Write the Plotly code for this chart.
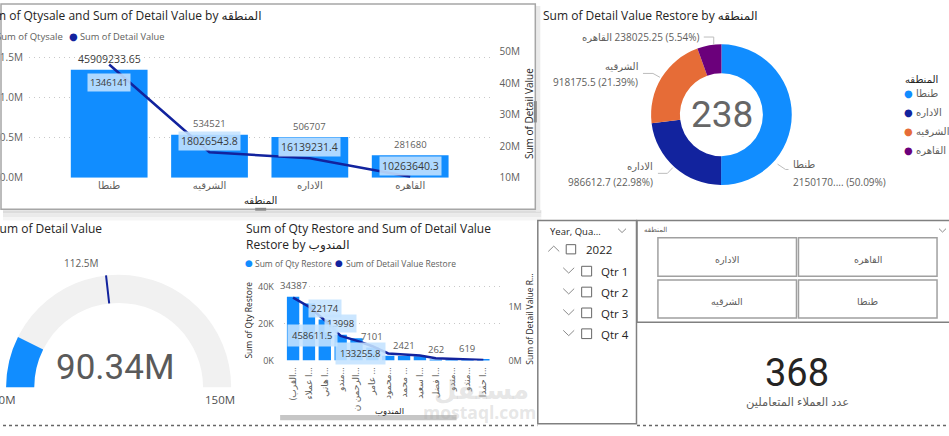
import plotly.graph_objects as go

W, H = 949, 436
def X(px): return px / W
def Y(py): return 1 - py / H

FONT = "Segoe UI, Open Sans, DejaVu Sans, sans-serif"
NUMFONT = "Liberation Sans Narrow, DejaVu Sans Condensed, Roboto, sans-serif"
DARK = "#252423"; GRAY = "#605E5C"; LBL = "#3A3A3A"
BLUE = "#118DFF"; NAVY = "#12239E"; ORANGE = "#E66C37"; PURPLE = "#6B007B"
BOX = "rgba(196,226,255,0.88)"
CLEAR = "rgba(0,0,0,0)"

# ---------------- data ----------------
regions = ["طنطا", "الشرقيه", "الاداره", "القاهره"]
qty_sale = [1346141, 534521, 506707, 281680]
detail_value = [45909233.65, 18026543.8, 16139231.4, 10263640.3]

donut_regions = ["طنطا", "الاداره", "الشرقيه", "القاهره"]
detail_value_restore = [2150170.5, 986612.7, 918175.5, 238025.25]
donut_colors = [BLUE, NAVY, ORANGE, PURPLE]
donut_center_count = 238

gauge_value = 90340000
gauge_min = 80000000
gauge_max = 150000000
gauge_target = 112500000

reps = ["(القرب...", "ا عملاء...", "ا هاني...", "مندو...", "الرحمن ن...", "عامر ...",
        "محمود...", "محمد ...", "ا سعيد...", "ا فضل...", "مندو...", "مندو...", "ا حمدا..."]
qty_restore = [34387, 30800, 22174, 13998, 12000, 7101, 2600, 2421, 2300, 262, 300, 619, 900]
value_restore = [1170000, 1000000, 750000, 458611.5, 370000, 267000, 133255.8, 120000,
                 94000, 45000, 35000, 25000, 12000]
qty_label_idx = [0, 2, 3, 5, 7, 9, 11]
qty_label_boxed = [2, 3]
value_label_idx = [3, 6]

slicer_year = "2022"
slicer_quarters = ["Qtr 1", "Qtr 2", "Qtr 3", "Qtr 4"]
button_regions = ["الاداره", "القاهره", "الشرقيه", "طنطا"]
customer_count = 368

def fmt(v):
    return ("%.2f" % v).rstrip("0").rstrip(".")

fig = go.Figure()

# ---------------- top-left combo chart ----------------
xi = list(range(len(regions)))
fig.add_trace(go.Bar(x=xi, y=qty_sale, xaxis="x", yaxis="y", width=0.765,
                     marker=dict(color=BLUE, line=dict(width=0)), hoverinfo="skip"))
fig.add_trace(go.Scatter(x=xi, y=detail_value, xaxis="x", yaxis="y2", mode="lines",
                         line=dict(color=NAVY, width=2.5), hoverinfo="skip"))

# ---------------- donut ----------------
fig.add_trace(go.Pie(labels=donut_regions, values=detail_value_restore, hole=0.59, sort=False,
                     direction="clockwise", rotation=0, textinfo="none",
                     marker=dict(colors=donut_colors, line=dict(width=0)),
                     domain=dict(x=[X(648.2), X(793.2)], y=[Y(184.5), Y(39.5)]),
                     showlegend=False, hoverinfo="skip"))

# ---------------- gauge ----------------
fig.add_trace(go.Indicator(mode="gauge", value=gauge_value,
                           domain=dict(x=[0, X(232)], y=[Y(393), Y(277)]),
                           gauge=dict(shape="angular",
                                      axis=dict(range=[gauge_min, gauge_max], visible=False),
                                      bar=dict(color=BLUE, thickness=1, line=dict(width=0)),
                                      bgcolor="#F1F1F1", borderwidth=0,
                                      threshold=dict(line=dict(color=NAVY, width=2), thickness=1,
                                                     value=gauge_target))))

# ---------------- bottom combo chart ----------------
xr = list(range(len(reps)))
fig.add_trace(go.Bar(x=xr, y=qty_restore, xaxis="x2", yaxis="y3", width=0.78,
                     marker=dict(color=BLUE, line=dict(width=0)), hoverinfo="skip"))
fig.add_trace(go.Scatter(x=xr, y=value_restore, xaxis="x2", yaxis="y4", mode="lines",
                         line=dict(color=NAVY, width=2.5), hoverinfo="skip"))

tick_font = dict(size=10, color=GRAY, family=FONT)
small_tick = dict(size=9, color=GRAY, family=FONT)
grid = dict(gridcolor="#C8C8C8", griddash="1px,4px", gridwidth=1)

layout = dict(
    width=W, height=H, margin=dict(l=0, r=0, t=0, b=0),
    paper_bgcolor="white", plot_bgcolor=CLEAR, showlegend=False,
    font=dict(family=FONT, color=GRAY),
    xaxis=dict(domain=[X(26), X(489)], range=[-0.8, 3.8], tickvals=xi, ticktext=regions,
               tickfont=tick_font, showgrid=False, zeroline=False, showline=False, ticks="",
               anchor="y", fixedrange=True),
    yaxis=dict(domain=[Y(177), Y(45)], range=[0, 1.5968e6], tickvals=[0, 5e5, 1e6, 1.5e6],
               ticktext=["0.0M", "0.5M", "1.0M", "1.5M"], tickfont=tick_font, zeroline=False,
               showline=False, ticks="", anchor="x", ticklabelstandoff=5, fixedrange=True, **grid),
    yaxis2=dict(overlaying="y", side="right", anchor="x", range=[9.95e6, 50.6e6],
                tickvals=[1e7, 2e7, 3e7, 4e7, 5e7], ticktext=["10M", "20M", "30M", "40M", "50M"],
                tickfont=tick_font, showgrid=False, zeroline=False, showline=False, ticks="",
                ticklabelstandoff=8, fixedrange=True),
    xaxis2=dict(domain=[X(281.7), X(500)], range=[-0.585, 13.14], tickvals=xr, ticktext=reps,
                tickangle=-90, tickfont=small_tick, showgrid=False, zeroline=False,
                showline=False, ticks="", anchor="y3", ticklabelstandoff=4, fixedrange=True),
    yaxis3=dict(domain=[Y(365.5), Y(283)], range=[0, 43140], tickvals=[0, 20000, 40000],
                ticktext=["0K", "20K", "40K"], tickfont=small_tick, zeroline=False, showline=False,
                ticks="", anchor="x2", ticklabelstandoff=9, fixedrange=True, **grid),
    yaxis4=dict(overlaying="y3", side="right", anchor="x2", range=[0, 1.486e6],
                tickvals=[0, 1e6], ticktext=["0M", "1M"], tickfont=small_tick, showgrid=False,
                zeroline=False, showline=False, ticks="", ticklabelstandoff=6, fixedrange=True),
)

# ---------------- shapes ----------------
shapes = []
def rect(x0, y0, x1, y1, line=None, fill=None, lw=1, layer="above"):
    d = dict(type="rect", xref="paper", yref="paper", x0=X(x0), x1=X(x1), y0=Y(y1), y1=Y(y0),
             layer=layer, line=dict(color=line or CLEAR, width=lw if line else 0))
    if fill:
        d["fillcolor"] = fill
    shapes.append(d)

def path(pts, color, lw=1):
    p = "M " + " L ".join(f"{X(a):.5f},{Y(b):.5f}" for a, b in pts)
    shapes.append(dict(type="path", xref="paper", yref="paper", path=p,
                       line=dict(color=color, width=lw), layer="above"))

def hline(x0, x1, y, color, lw=1, dash=None):
    shapes.append(dict(type="line", xref="paper", yref="paper", x0=X(x0), x1=X(x1), y0=Y(y), y1=Y(y),
                       line=dict(color=color, width=lw, dash=dash), layer="above"))

# shadow + border of the selected top-left visual
rect(0, 210.5, 540, 214, fill="#DCDCDC", layer="below")
rect(0, 214, 540, 218, fill="#EAEAEA", layer="below")
rect(0, 218, 540, 221, fill="#F5F5F5", layer="below")
rect(534.5, 0, 539, 212, fill="#EAEAEA", layer="below")
rect(-2, -2, 534, 209.5, line="#A6A6A6", lw=1.5)
rect(532.5, 98, 535.5, 120, fill="#8A8A8A")
rect(253, 208, 264, 211, fill="#8A8A8A")

# donut leader lines
LEAD = "#BDBDBD"
path([(703, 32), (713, 32), (713, 40)], LEAD)
path([(642, 69.5), (652, 69.5), (659, 73.5)], LEAD)
path([(657, 172.5), (666.5, 172.5), (672, 166.5)], LEAD)
path([(788, 168.5), (785, 168.5), (777, 163)], LEAD)

# bottom chart scrollbar
rect(278, 421.5, 455, 427, fill="#C6C6C6")

# slicer panels
rect(536.5, 221, 635.5, 430.5, line="#808080", lw=1.5)
rect(636, 221, 951, 326, line="#808080", lw=1.5)
CHEV = "#8A8A8A"
path([(617, 229.5), (621, 233.5), (625, 229.5)], CHEV)
path([(939, 229.5), (942.5, 233), (946, 229.5)], CHEV)
path([(547, 253), (552.5, 247.5), (558, 253)], CHEV)
rect(565, 246, 574.5, 255.5, line="#666666", lw=1)
row_y = [273.3, 294.8, 316.3, 337.8]
for cy in row_y:
    path([(562, cy - 3.5), (567.5, cy + 2), (573, cy - 3.5)], CHEV)
    rect(580.5, cy - 5, 590.5, cy + 5, line="#666666", lw=1)

btn_boxes = [(657, 239, 796, 278.5), (798, 239, 937, 278.5),
             (657, 282.5, 796, 321.5), (798, 282.5, 937, 321.5)]
for b in btn_boxes:
    rect(*b, line="#A0A0A0", lw=1.5)

# canvas dotted bottom line
hline(0, 536, 432.5, "#666666", 1.5, "dot")
hline(636, 949, 432.5, "#666666", 1.5, "dot")

# ---------------- annotations ----------------
anns = []
def text(s, x, y, size, color=GRAY, xa="center", ya="middle", family=FONT, angle=0, bg=None, pad=1):
    d = dict(text=s, x=X(x), y=Y(y), xref="paper", yref="paper", xanchor=xa, yanchor=ya,
             showarrow=False, font=dict(size=size, color=color, family=family),
             textangle=angle, borderpad=pad)
    if bg:
        d["bgcolor"] = bg
    anns.append(d)

# top-left chart texts
text("Sum of Qtysale and Sum of Detail Value by المنطقه", 261, 9.5, 12, DARK, xa="right")
text("Sum of Qtysale", 62, 31, 9.5, GRAY, xa="right")
text("●", 70.6, 30.5, 10, NAVY)
text("Sum of Detail Value", 75.5, 31, 9.3, GRAY, xa="left")
text("Sum of Detail Value", 527, 111, 10, DARK, angle=-90)
text("المنطقه", 258, 200, 10, DARK)

ymax_left = layout["yaxis"]["range"][1]
for i, v in enumerate(qty_sale):
    inside = v > 0.8 * ymax_left
    anns.append(dict(text=str(v), x=i, y=v, xref="x", yref="y", showarrow=False,
                     yshift=-13 if inside else 11,
                     font=dict(size=9.5, color=LBL if inside else GRAY, family=FONT),
                     bgcolor=BOX if inside else CLEAR, borderpad=2))
for i, v in enumerate(detail_value):
    first = (i == 0)
    anns.append(dict(text=fmt(v), x=i, y=v, xref="x", yref="y2", showarrow=False,
                     yshift=5 if first else 11,
                     font=dict(size=10.5, color=LBL, family=FONT),
                     bgcolor=CLEAR if first else BOX, borderpad=2))

# donut texts
text("Sum of Detail Value Restore by المنطقه", 540, 9.5, 12, DARK, xa="left")
text(str(donut_center_count), 721, 112, 37, "#666666", family="Roboto, sans-serif")
total = sum(detail_value_restore)
def dlabel(v):
    s = f"{int(v)}...." if v >= 1e6 else fmt(v)
    return f"{s} ({v / total * 100:.2f}%)"
dl = {r: dlabel(v) for r, v in zip(donut_regions, detail_value_restore)}
text("القاهره\u200e " + dl["القاهره"], 701, 32, 10, GRAY, xa="right")
text("الشرقيه", 639, 62, 10, GRAY, xa="right")
text(dl["الشرقيه"], 639, 78, 10, GRAY, xa="right")
text("الاداره", 654, 165, 10, GRAY, xa="right")
text(dl["الاداره"], 654, 181, 10, GRAY, xa="right")
text("طنطا", 791, 163, 10, GRAY, xa="left")
text(dl["طنطا"], 791, 181, 10, GRAY, xa="left")
text("المنطقه", 903, 75, 10, DARK, xa="left")
for k, (r, c) in enumerate(zip(donut_regions, donut_colors)):
    yy = 90 + k * 19.6
    text("●", 908.3, yy - 0.5, 10, c)
    text(r, 913.5, yy, 10, GRAY, xa="left")

# gauge texts
text("Sum of Detail Value", 101.5, 229, 12, DARK, xa="right")
text(f"{gauge_target / 1e6:g}M", 98.5, 264.5, 10, GRAY, xa="right")
text(f"{gauge_value / 1e6:.2f}M", 112, 373, 35, "#5A5A5A", family="Roboto, sans-serif")
text(f"{gauge_min / 1e6:g}M", 15.5, 406, 11.5, "#505050", xa="right")
text(f"{gauge_max / 1e6:g}M", 217.5, 406, 11.5, "#505050")

# bottom chart texts
text("Sum of Qty Restore and Sum of Detail Value", 242, 229, 12, DARK, xa="left")
text("Restore by المندوب", 242, 245.5, 12, DARK, xa="left")
text("●", 246.3, 264.5, 9, BLUE)
text("Sum of Qty Restore", 251, 265, 8.5, GRAY, xa="left")
text("●", 337, 264.5, 9, NAVY)
text("Sum of Detail Value Restore", 342.5, 265, 8.5, GRAY, xa="left")
text("Sum of Qty Restore", 246, 324, 8.5, DARK, angle=-90)
text("Sum of Detail Value R...", 528, 323, 8.5, DARK, angle=-90)
text("المندوب", 388, 417, 8.5, DARK)

for i in qty_label_idx:
    v = qty_restore[i]
    boxed = i in qty_label_boxed
    anns.append(dict(text=str(v), x=i, y=v, xref="x2", yref="y3", showarrow=False, yshift=11,
                     font=dict(size=9.5, color=LBL if boxed else GRAY, family=FONT),
                     bgcolor=BOX if boxed else CLEAR, borderpad=2))
for i in value_label_idx:
    v = value_restore[i]
    anns.append(dict(text=fmt(v), x=i, y=v, xref="x2", yref="y4", showarrow=False, xshift=-28,
                     font=dict(size=9.5, color=LBL, family=FONT), bgcolor=BOX, borderpad=4))

# watermark
text("<b>مستقل</b>", 480, 395, 26, "rgba(170,170,170,0.30)")
text("<b>mostaql.com</b>", 478, 418, 17.5, "rgba(170,170,170,0.30)")

# slicer texts
text("Year, Qua...", 546.5, 232, 9.5, DARK, xa="left")
text(slicer_year, 583, 251, 11.5, DARK, xa="left")
for cy, q in zip(row_y, slicer_quarters):
    text(q, 598, cy + 0.7, 11.5, DARK, xa="left")

text("المنطقه", 655, 230.5, 7, GRAY)
for b, r in zip(btn_boxes, button_regions):
    text(r, (b[0] + b[2]) / 2, (b[1] + b[3]) / 2 + 2.5, 9.5, GRAY)

# card
text(str(customer_count), 797, 378, 38, DARK, family="Roboto, sans-serif")
text("عدد العملاء المتعاملين", 797, 408, 11.5, GRAY)

layout["shapes"] = shapes
layout["annotations"] = anns
fig.update_layout(**layout)
fig.write_html("out.html", config={"displayModeBar": False})
